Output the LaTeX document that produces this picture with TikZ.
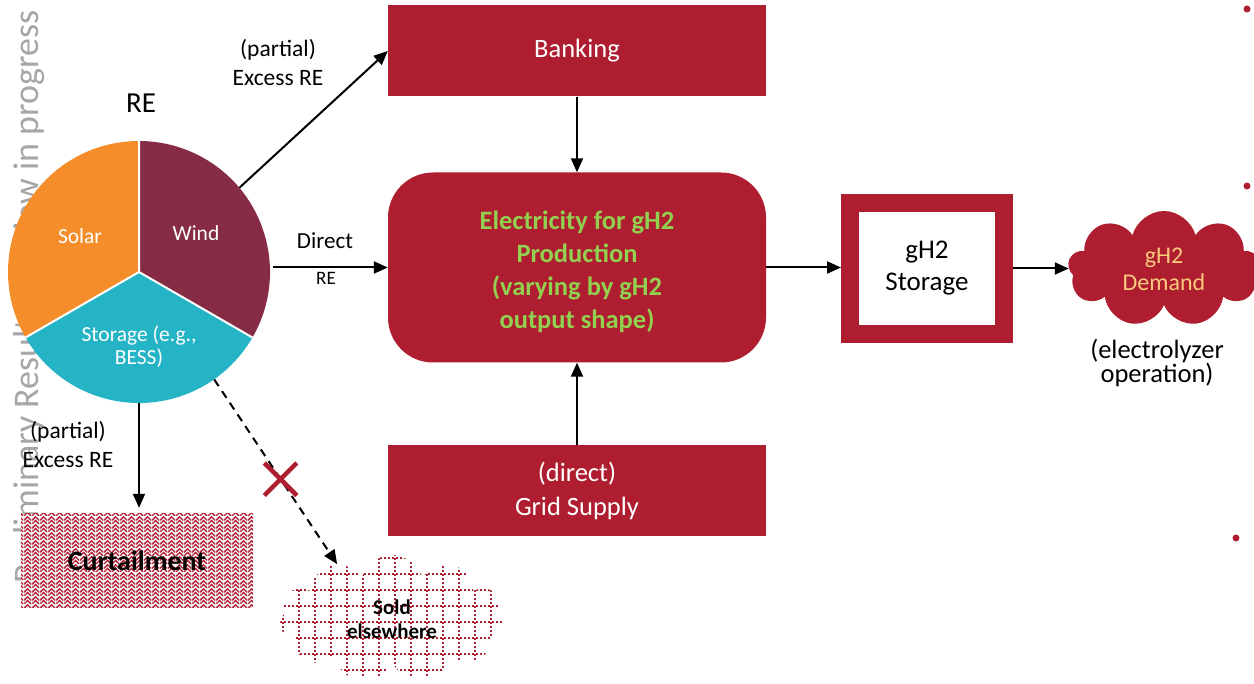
\documentclass[tikz,border=0pt]{standalone}
\usepackage{fontspec}
\setmainfont{Carlito}
\usetikzlibrary{arrows.meta,shapes.symbols,shapes.misc,patterns.meta}
\definecolor{brick}{HTML}{AF1E30}
\definecolor{windc}{HTML}{862D45}
\definecolor{solarc}{HTML}{F58E2A}
\definecolor{storc}{HTML}{25B4C6}
\definecolor{greent}{HTML}{92D050}
\definecolor{demt}{HTML}{F9C97C}
\definecolor{wmark}{HTML}{A6A6A6}
\tikzdeclarepattern{
  name=zigzag,
  type=uncolored,
  bounding box={(0pt,0pt) and (8pt,8pt)},
  tile size={(8pt,8pt)},
  code={
    \draw[line width=1.5pt] (0pt,0pt) -- (4pt,4pt) -- (8pt,0pt);
    \draw[line width=1.5pt] (0pt,4pt) -- (4pt,8pt) -- (8pt,4pt);
  }
}
\tikzset{
  fs/.style={font=\fontsize{#1}{#1}\selectfont},
  redbox/.style={fill=brick, minimum width=378pt, minimum height=91pt, text=white,
    align=center, inner sep=0pt, font=\fontsize{26.5}{34}\selectfont},
  arr/.style={line width=2pt, -{Triangle[length=14pt,width=12pt]}},
  lbl/.style={align=center, inner sep=0pt},
}
\begin{document}
\begin{tikzpicture}[x=1pt,y=1pt]
\useasboundingbox (0,0) rectangle (1254,-684);
% watermark
\node[rotate=90, anchor=base, text=wmark, inner sep=0pt, font=\fontsize{36}{38}\selectfont] (wm) at (38,-297) {Preliminary Results - review in progress};
% pie
\node[circle, minimum size=262pt, inner sep=0pt] (pie) at (139,-272) {};
\fill[solarc] (pie.center) -- ++(90:131pt) arc[start angle=90, end angle=210, radius=131pt] -- cycle;
\fill[windc] (pie.center) -- ++(-30:131pt) arc[start angle=-30, end angle=90, radius=131pt] -- cycle;
\fill[storc] (pie.center) -- ++(210:131pt) arc[start angle=210, end angle=330, radius=131pt] -- cycle;
\draw[white, line width=2pt] (pie.center) -- ++(90:131pt) (pie.center) -- ++(210:131pt) (pie.center) -- ++(-30:131pt);
\node[lbl, text=white, fs=21.5] (solar) at (80,-236) {Solar};
\node[lbl, text=white, fs=21.5] (wind) at (196,-233) {Wind};
\node[lbl, text=white, font=\fontsize{21.5}{23}\selectfont] (stor) at (139,-347) {Storage (e.g.,\\BESS)};
\node[lbl, fs=29] (relbl) at (141,-103) {RE};
% boxes
\node[redbox] (bank) at (577,-51) {Banking};
\node[redbox, minimum height=190pt, rounded corners=45pt, text=greent, font=\bfseries\fontsize{26.5}{33}\selectfont] (elec) at (577,-267.5)
  {\\[-6pt]Electricity for gH2\\Production\\(varying by gH2\\output shape)};
\node[redbox] (grid) at (577,-490.5) {(direct)\\Grid Supply};
\node[draw=brick, line width=18pt, fill=white, minimum width=154pt, minimum height=131pt, inner sep=0pt,
  align=center, font=\fontsize{27}{32}\selectfont] (store) at (927,-268.5) {gH2\\Storage};
\node[cloud, cloud puffs=9, cloud ignores aspect, fill=brick, minimum width=192pt, minimum height=116pt, inner sep=0pt,
  text=demt, align=center, font=\fontsize{24}{27}\selectfont] (dem) at (1164,-269) {gH2\\Demand};
\node[lbl, font=\fontsize{26.5}{23}\selectfont] (elop) at (1157,-363) {(electrolyzer\\operation)};
% curtailment
\node[preaction={fill=white}, pattern={zigzag}, pattern color=brick, minimum width=232pt, minimum height=93pt, inner sep=0pt,
  font=\bfseries\fontsize{28}{30}\selectfont] (curt) at (137,-560.5) {Curtailment};
% sold elsewhere
\node[cloud, cloud puffs=11, cloud ignores aspect, minimum width=225pt, minimum height=128pt, inner sep=0pt,
  align=center, font=\bfseries\fontsize{21}{24}\selectfont,
  path picture={\draw[brick, line width=1.8pt, dash pattern=on 1.8pt off 2.2pt]
    ([xshift=-7pt,yshift=6pt]path picture bounding box.south west) grid[step=16pt] (path picture bounding box.north east);}]
  (sold) at (392,-619) {Sold\\elsewhere};
% arrows
\draw[arr] (pie.40) -- (bank.west);
\draw[arr] ([xshift=3pt]pie.east |- elec.west) -- (elec.west);
\draw[arr] (bank.south) -- (elec.north);
\draw[arr] (grid.north) -- (elec.south);
\draw[arr] (elec.east) -- (elec.east -| store.west);
\draw[arr] (store.east) -- (store.east -| dem.west);
\draw[arr, shorten >=6pt] (pie.south) -- (pie.south |- curt.north);
\draw[arr, dash pattern=on 8pt off 6pt] (pie.-55) -- (sold.135)
  node[pos=0.54, cross out, solid, draw=brick, line width=4.5pt, minimum size=28pt, inner sep=0pt] (xm) {};
% labels
\node[lbl, font=\fontsize{23.5}{29}\selectfont] (pex1) at (278,-62) {(partial)\\Excess RE};
\node[lbl, fs=23] (dir) at (325,-241) {Direct};
\node[lbl, fs=19] (dirre) at (326,-278) {RE};
\node[lbl, font=\fontsize{23.5}{29}\selectfont] (pex2) at (68,-444) {(partial)\\Excess RE};
% dots
\fill[brick] (1247,-9) circle (3.5pt);
\fill[brick] (1247,-186) circle (3.5pt);
\fill[brick] (1236,-538) circle (3.5pt);
\end{tikzpicture}
\end{document}
